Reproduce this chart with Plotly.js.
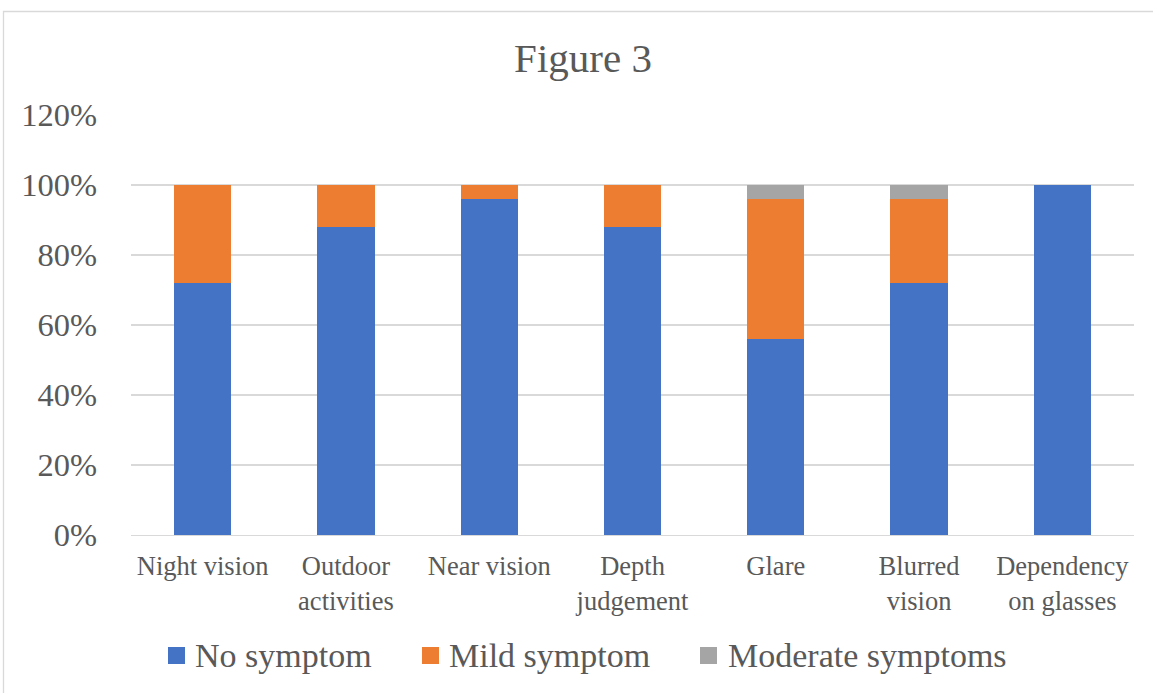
<!DOCTYPE html>
<html>
<head>
<meta charset="utf-8">
<script src="https://cdn.plot.ly/plotly-3.0.1.min.js"></script>
<style>html,body{margin:0;padding:0;background:#fff;}#chart{width:1153px;height:693px;}</style>
</head>
<body>
<div id="chart"></div>
<script>
const categories = ["Night vision", "Outdoor<br>activities", "Near vision", "Depth<br>judgement", "Glare", "Blurred<br>vision", "Dependency<br>on glasses"];
const noSymptom = [0.72, 0.88, 0.96, 0.88, 0.56, 0.72, 1.00];
const mildSymptom = [0.28, 0.12, 0.04, 0.12, 0.40, 0.24, 0.00];
const moderateSymptoms = [0.00, 0.00, 0.00, 0.00, 0.04, 0.04, 0.00];
const seriesNames = ["No symptom", "Mild symptom", "Moderate symptoms"];
const seriesColors = ["#4472C4", "#ED7D31", "#A5A5A5"];
const yTickVals = [0, 0.2, 0.4, 0.6, 0.8, 1.0, 1.2];
const yTickText = ["0%", "20%", "40%", "60%", "80%", "100%", "120%"];

const W = 1153, H = 693;
const mL = 131, mR = 19, mT = 115, mB = 158;
const pw = W - mL - mR, ph = H - mT - mB;
const px2x = p => (p - mL) / pw;
const py2y = p => (H - mB - p) / ph;

const font = "'Liberation Serif', 'Times New Roman', serif";
const txt = "#595959";

const seriesData = [noSymptom, mildSymptom, moderateSymptoms];
const traces = seriesData.map((vals, i) => ({
  type: "bar",
  name: seriesNames[i],
  x: categories,
  y: vals,
  marker: {color: seriesColors[i], line: {width: 0}},
  showlegend: false,
  hoverinfo: "x+y+name"
}));

const legendMarkerX = [168, 422, 700];
const legendTextX = [193, 447, 726];
const shapes = [{
  type: "rect", xref: "paper", yref: "paper",
  x0: px2x(3.5), x1: px2x(1170), y0: py2y(11.5), y1: py2y(720),
  line: {color: "#d9d9d9", width: 1.3}, fillcolor: "rgba(0,0,0,0)", layer: "below"
}];
const annotations = [];
seriesNames.forEach((n, i) => {
  shapes.push({
    type: "rect", xref: "paper", yref: "paper",
    x0: px2x(legendMarkerX[i]), x1: px2x(legendMarkerX[i] + 17),
    y0: py2y(647), y1: py2y(664),
    fillcolor: seriesColors[i], line: {width: 0}
  });
  annotations.push({
    xref: "paper", yref: "paper", x: px2x(legendTextX[i]), y: py2y(655),
    xanchor: "left", yanchor: "middle", showarrow: false,
    text: n, font: {family: font, size: 34, color: txt}
  });
});

const layout = {
  width: W, height: H,
  margin: {l: mL, r: mR, t: mT, b: mB, pad: 0},
  paper_bgcolor: "#ffffff", plot_bgcolor: "#ffffff",
  barmode: "stack",
  bargap: 0.6,
  showlegend: false,
  title: {
    text: "Figure 3",
    font: {family: font, size: 41, color: txt},
    x: 583 / W, xanchor: "center", xref: "container",
    y: 1 - 58 / H, yanchor: "middle", yref: "container"
  },
  xaxis: {
    type: "category",
    tickfont: {family: font, size: 26.5, color: txt},
    showgrid: false, showline: true, linecolor: "#d9d9d9", linewidth: 1.3,
    ticks: "", ticklabelstandoff: 7, zeroline: false, fixedrange: true
  },
  yaxis: {
    range: [0, 1.2],
    tickvals: yTickVals, ticktext: yTickText,
    tickfont: {family: font, size: 32.5, color: txt},
    showgrid: true, gridcolor: "#d9d9d9", gridwidth: 1.3,
    showline: false, zeroline: false, ticks: "", ticklabelstandoff: 33,
    fixedrange: true
  },
  shapes: shapes,
  annotations: annotations
};

Plotly.newPlot("chart", traces, layout, {displayModeBar: false, staticPlot: true});
</script>
</body>
</html>
